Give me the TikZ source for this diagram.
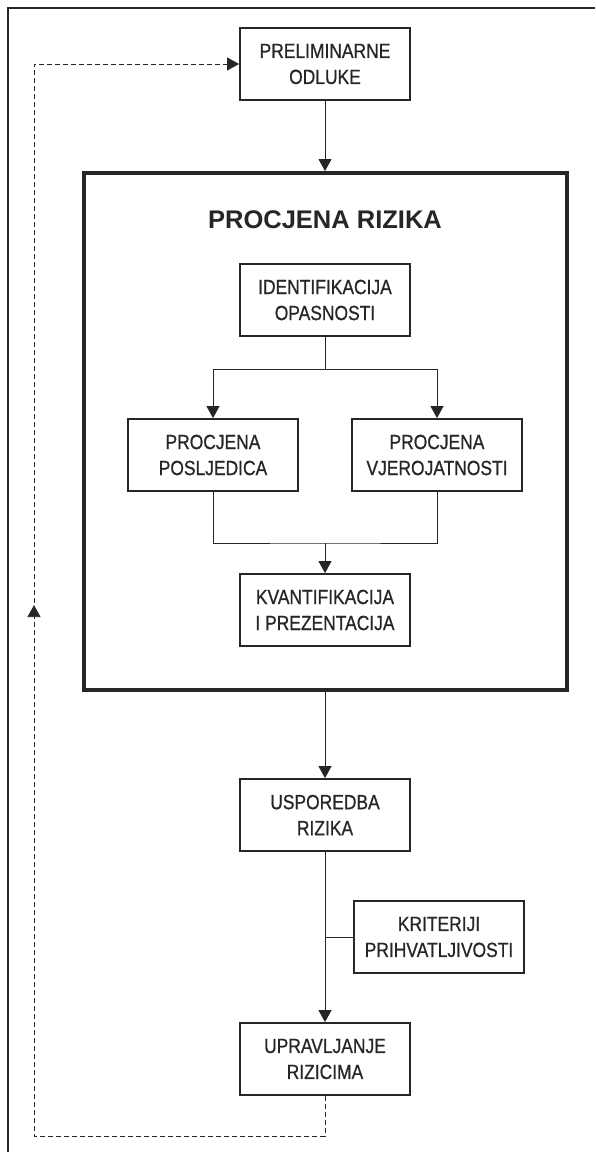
\documentclass[tikz,border=0pt]{standalone}
\usepackage{fontspec}
\setmainfont{Liberation Sans}
\newfontfamily\condfont[FakeStretch=0.85,FakeBold=0.8]{Liberation Sans}
\usetikzlibrary{arrows.meta, decorations.markings}
\tikzstyle{whitebox} = [rectangle, minimum width=170pt, minimum height=72pt, draw=black!85, line width=1.8pt, align=center, text=black!85, font=\condfont\fontsize{20.5pt}{26pt}\selectfont]
\tikzstyle{bigbox} = [rectangle, minimum width=483pt, minimum height=517pt, draw=black!85, line width=4pt]
\tikzstyle{arrow} = [line width=0.8pt, draw=black!85, -{Triangle[width=13pt,length=12pt]}]
\tikzstyle{plainline} = [line width=0.8pt, draw=black!85]
\tikzstyle{feedback} = [line width=0.8pt, draw=black!85, dash pattern=on 5pt off 3pt, -{Triangle[width=13pt,length=12pt]}, postaction={decorate}, decoration={markings, mark=at position 862pt with {\arrow{Triangle[width=13pt,length=12pt]}}}]

\begin{document}
\begin{tikzpicture}[align=center]
      \useasboundingbox (0pt,0pt) rectangle (595pt,-1152pt);
      \draw [line width=1.5pt, draw=black!85] (8pt,-1152pt) -- (8pt,-8pt) -- (595pt,-8pt);

      \node (prelim) [whitebox] at (325pt,-64pt) {PRELIMINARNE\\ODLUKE};
      \node (riskbox) [bigbox, below of=prelim, node distance=367.5pt] {};
      \node (title) [below of=prelim, node distance=156pt, text=black!85, font=\bfseries\fontsize{25.5pt}{30pt}\selectfont] {PROCJENA RIZIKA};
      \node (ident) [whitebox, below of=prelim, node distance=236pt] {IDENTIFIKACIJA\\OPASNOSTI};
      \node (poslj) [whitebox, below of=ident, node distance=155pt, xshift=-112pt] {PROCJENA\\POSLJEDICA};
      \node (vjer) [whitebox, below of=ident, node distance=155pt, xshift=112pt] {PROCJENA\\VJEROJATNOSTI};
      \node (kvant) [whitebox, below of=ident, node distance=310pt] {KVANTIFIKACIJA\\I PREZENTACIJA};

      \node (uspor) [whitebox, below of=kvant, node distance=205pt] {USPOREDBA\\RIZIKA};
      \node (krit) [whitebox, below of=uspor, node distance=122pt, xshift=114pt] {KRITERIJI\\PRIHVATLJIVOSTI};
      \node (uprav) [whitebox, below of=uspor, node distance=244pt] {UPRAVLJANJE\\RIZICIMA};

      \coordinate (merge) at (325pt,-543pt);
      \coordinate (loopcorner) at (34pt,-1136pt);

      \draw [arrow] (prelim) -- (riskbox);
      \draw [arrow] (ident.south) -- ++(0,-32pt) -| (poslj.north);
      \draw [arrow] (ident.south) -- ++(0,-32pt) -| (vjer.north);
      \draw [plainline] (poslj.south) |- (merge) -| (vjer.south);
      \draw [arrow] (merge) -- (kvant);

      \draw [arrow] (riskbox.south) -- (uspor);
      \draw [arrow] (uspor) -- (uprav);
      \draw [plainline] (krit.west) -- (krit.west -| uspor.south);

      \draw [feedback] (uprav.south) |- (loopcorner) |- (prelim.west);
    \end{tikzpicture}
\end{document}
